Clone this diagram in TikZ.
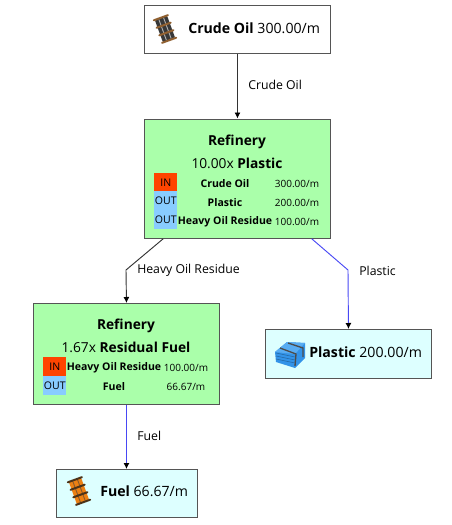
\documentclass[tikz,border=0pt]{standalone}
\usepackage{fontspec}
\setmainfont{Open Sans}
\usepackage{tikz}
\usetikzlibrary{arrows.meta,calc,positioning}

\definecolor{recipegreen}{HTML}{AAFFAA}
\definecolor{itemcyan}{HTML}{DDFFFF}
\definecolor{inred}{HTML}{FF4400}
\definecolor{outblue}{HTML}{88CCFF}
\definecolor{edgeblue}{HTML}{4848F4}
\definecolor{framegray}{HTML}{555555}
\definecolor{plasticside}{HTML}{3393E8}
\definecolor{plastictop}{HTML}{58ACF2}

% barrel icon, #1 position, #2 body colour, #3 band colour, #4 rim colour
\newcommand{\barrelicon}[4]{
  \begin{scope}[shift={#1},rotate=20]
    \fill[#2,rounded corners=1pt] (-6.5,-12) rectangle (6.5,12);
    \foreach \xs in {-2.5,2.5} \draw[#3,line width=0.7pt] (\xs,-11) -- (\xs,11);
    \foreach \ys in {-12,-4,4,12} \draw[#4,line width=1.5pt,line cap=round] (-7.5,\ys) -- (7.5,\ys);
  \end{scope}
}

\begin{document}
\begin{tikzpicture}[
    x=0.75pt,y=-0.75pt,
    itembox/.style={draw=framegray,line width=0.7pt,anchor=north west,inner sep=0pt},
    recipe/.style={itembox,fill=recipegreen},
    product/.style={itembox,fill=itemcyan},
    rawitem/.style={itembox,fill=white},
    itemtext/.style={font=\fontsize{10.6pt}{13pt}\selectfont,anchor=west,inner sep=0pt},
    title/.style={font=\fontsize{10.3pt}{13pt}\selectfont,inner sep=0pt},
    cell/.style={font=\fontsize{7.9pt}{9pt}\selectfont,inner sep=0pt},
    ratecell/.style={font=\fontsize{7.5pt}{9pt}\selectfont,inner sep=0pt},
    dirin/.style={fill=inred,anchor=north west,inner sep=0pt,minimum width=17.25pt,minimum height=14.25pt,font=\fontsize{7.9pt}{9pt}\selectfont},
    dirout/.style={dirin,fill=outblue},
    flow/.style={-{Latex[length=4.5pt,width=4.5pt,black]},line width=0.7pt,black!80},
    flowblue/.style={flow,edgeblue},
    edgelabel/.style={font=\fontsize{9.2pt}{10pt}\selectfont,inner sep=0pt,anchor=west}
]
\useasboundingbox (0,0) rectangle (452,525);

% Crude oil source
\node[rawitem,minimum width=139.5pt,minimum height=36pt] (crude) at (144,5) {};
\barrelicon{(165,29)}{black!78}{black!30}{brown!75!black}
\node[itemtext] (crudetext) at (188,28) {\textbf{Crude Oil} 300.00/m};

% First refinery
\node[recipe,minimum width=139.5pt,minimum height=89.5pt] (refinery) at (144,118.5) {};
\node[title] (refname) at (237,141.5) {\textbf{Refinery}};
\node[title] (refrate) at (237,163) {10.00x \textbf{Plastic}};
\node[dirin] (refin) at (154,173) {IN};
\node[dirout] (refouta) at (154,191) {OUT};
\node[dirout] (refoutb) at (154,210) {OUT};
\node[cell] (refitema) at (225,184) {\textbf{Crude Oil}};
\node[cell] (refitemb) at (225,203) {\textbf{Plastic}};
\node[cell] (refitemc) at (225,222) {\textbf{Heavy Oil Residue}};
\node[ratecell] (refratea) at (297,184) {300.00/m};
\node[ratecell] (refrateb) at (297,203) {200.00/m};
\node[ratecell] (refratec) at (297,222) {100.00/m};

% Second refinery
\node[recipe,minimum width=139.5pt,minimum height=75.75pt] (residual) at (33,303) {};
\node[title] (resname) at (126,325.5) {\textbf{Refinery}};
\node[title] (resrate) at (126,347.5) {1.67x \textbf{Residual Fuel}};
\node[dirin] (resin) at (43,357) {IN};
\node[dirout] (resout) at (43,376) {OUT};
\node[cell] (resitema) at (114,368) {\textbf{Heavy Oil Residue}};
\node[cell] (resitemb) at (114,387) {\textbf{Fuel}};
\node[ratecell] (resratea) at (186,368) {100.00/m};
\node[ratecell] (resrateb) at (186,387) {66.67/m};

% Plastic output
\node[product,minimum width=124.5pt,minimum height=36.75pt] (plastic) at (265,329) {};
\fill[plasticside] (275,352) -- (287,342) -- (305,343) -- (305,358) -- (295,368) -- (276,362) -- cycle;
\fill[plastictop] (275,352) -- (287,342) -- (305,343) -- (295,354) -- cycle;
\foreach \ys in {357,360,363} \draw[plasticside!70!black,line width=0.4pt] (276,\ys-4) -- (295,\ys);
\draw[black!70,line width=1pt] (280,348) -- (296,354) -- (295,366) (288,343) -- (303,348) -- (303,357);
\node[itemtext] (plastictext) at (309,352) {\textbf{Plastic} 200.00/m};

% Fuel output
\node[product,minimum width=105.75pt,minimum height=36pt] (fuel) at (56,469) {};
\barrelicon{(79,491)}{orange!70!brown}{brown!70!black}{black!60!brown}
\node[itemtext] (fueltext) at (100,491) {\textbf{Fuel} 66.67/m};

% Connectors
\coordinate (heavybend) at (126,270);
\coordinate (plasticbend) at (348,270);
\draw[flow] (crude) -- (refinery);
\draw[flow] (refinery.219) -- (heavybend) -- (residual.north);
\draw[flowblue] (refinery.-39) -- (plasticbend) -- (plastic.north);
\draw[flowblue] (residual.south) -- (fuel.north -| residual.south);

\node[edgelabel] (crudelabel) at (248,85) {Crude Oil};
\node[edgelabel] (heavylabel) at (137,270.5) {Heavy Oil Residue};
\node[edgelabel] (plasticlabel) at (359,270.5) {Plastic};
\node[edgelabel] (fuellabel) at (137,436) {Fuel};
\end{tikzpicture}
\end{document}
